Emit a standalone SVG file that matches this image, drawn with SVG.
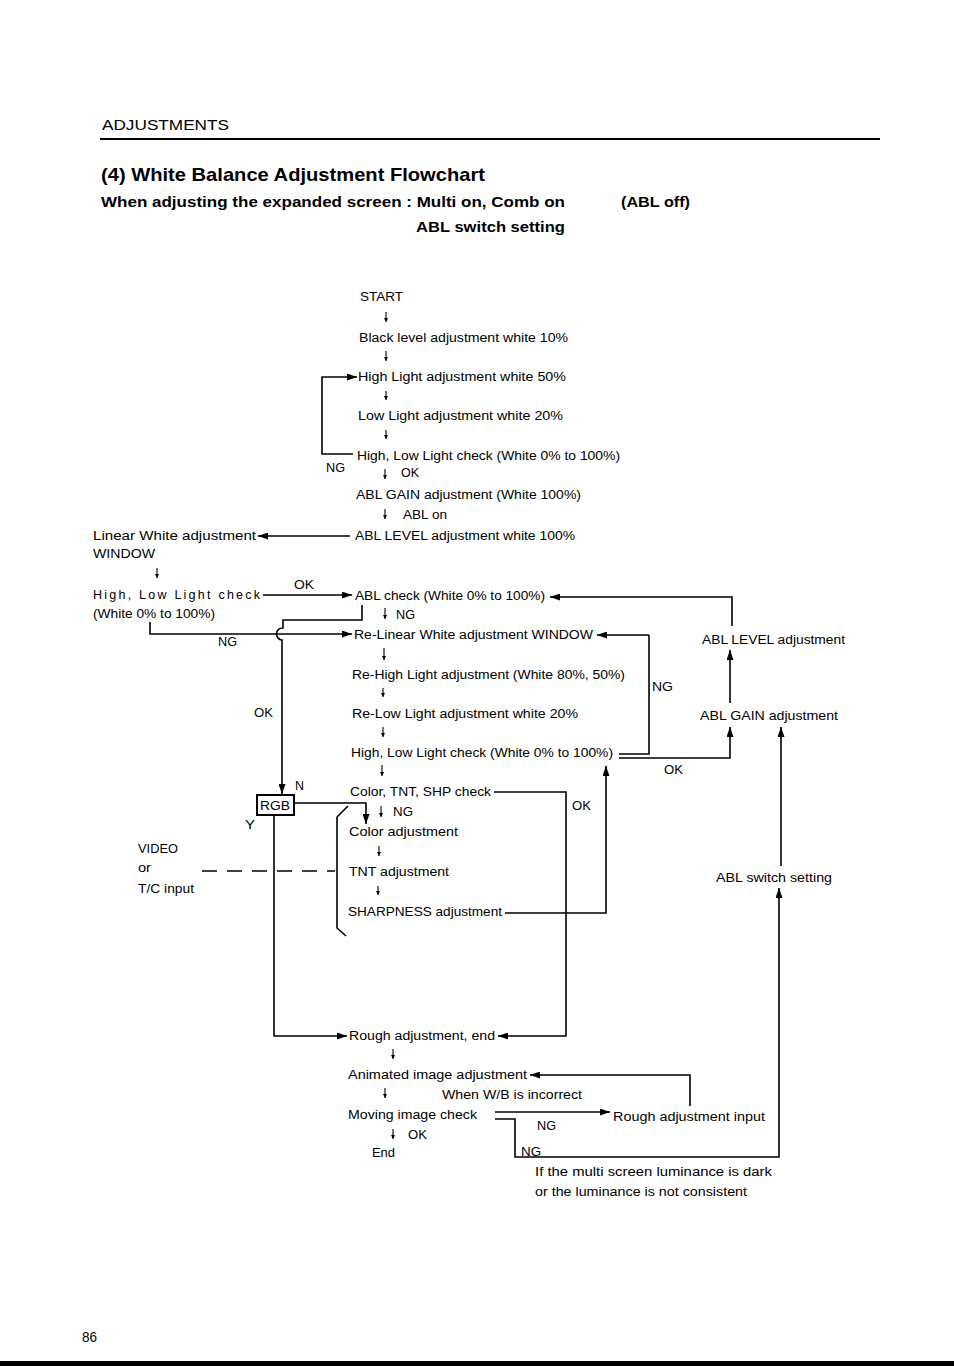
<svg xmlns="http://www.w3.org/2000/svg" width="954" height="1366" viewBox="0 0 954 1366">
<style>
text{font-family:"Liberation Sans",Arial,Helvetica,sans-serif;fill:#000}
.t{font-size:12.5px}
.s{font-size:12px}
.hd{font-size:15px}
.ti{font-size:19px;font-weight:bold}
.sb{font-size:15px;font-weight:bold}
.c{fill:none;stroke:#000;stroke-width:1.6}
.a{fill:none;stroke:#000;stroke-width:1.6;marker-end:url(#ah)}
.d{fill:none;stroke:#000;stroke-width:1.1;marker-end:url(#sm)}
.dash{fill:none;stroke:#000;stroke-width:1.5;stroke-dasharray:15 10}
</style>
<defs>
<marker id="ah" markerUnits="userSpaceOnUse" markerWidth="10" markerHeight="7" refX="10" refY="3.5" orient="auto">
<path d="M0,0 L10,3.5 L0,7 z" fill="#000"/>
</marker>
<marker id="sm" markerUnits="userSpaceOnUse" markerWidth="4" markerHeight="4" refX="4" refY="2" orient="auto">
<path d="M0,0 L4,2 L0,4 z" fill="#000"/>
</marker>
</defs>
<rect width="954" height="1366" fill="#fff"/>

<g id="header">
<text class="hd" x="102" y="130" textLength="127" lengthAdjust="spacingAndGlyphs">ADJUSTMENTS</text>
<line x1="100" y1="139" x2="880" y2="139" stroke="#000" stroke-width="2"/>
<text class="ti" x="101" y="181" textLength="384" lengthAdjust="spacingAndGlyphs">(4) White Balance Adjustment Flowchart</text>
<text class="sb" x="101" y="207" textLength="464" lengthAdjust="spacingAndGlyphs">When adjusting the expanded screen  :  Multi on, Comb on</text>
<text class="sb" x="621" y="207" textLength="69" lengthAdjust="spacingAndGlyphs">(ABL off)</text>
<text class="sb" x="416" y="232" textLength="149" lengthAdjust="spacingAndGlyphs">ABL switch setting</text>
</g>

<g id="n-start"><text class="t" x="360" y="301" textLength="43" lengthAdjust="spacingAndGlyphs">START</text></g>
<g id="n-black"><text class="t" x="359" y="342" textLength="209" lengthAdjust="spacingAndGlyphs">Black level adjustment white 10%</text></g>
<g id="n-high"><text class="t" x="358" y="381" textLength="208" lengthAdjust="spacingAndGlyphs">High Light adjustment white 50%</text></g>
<g id="n-low"><text class="t" x="358" y="420" textLength="205" lengthAdjust="spacingAndGlyphs">Low Light adjustment white 20%</text></g>
<g id="n-check1"><text class="t" x="357" y="460" textLength="263" lengthAdjust="spacingAndGlyphs">High, Low Light check (White 0% to 100%)</text></g>
<g id="n-ablgain1"><text class="t" x="356" y="499" textLength="225" lengthAdjust="spacingAndGlyphs">ABL GAIN adjustment (White 100%)</text></g>
<g id="n-abllevel1"><text class="t" x="355" y="540" textLength="220" lengthAdjust="spacingAndGlyphs">ABL LEVEL adjustment white 100%</text></g>
<g id="n-linear">
<text class="t" x="93" y="540" textLength="163" lengthAdjust="spacingAndGlyphs">Linear White adjustment</text>
<text class="t" x="93" y="558" textLength="62" lengthAdjust="spacingAndGlyphs">WINDOW</text>
</g>
<g id="n-check2">
<text class="t" x="93" y="599" textLength="167" lengthAdjust="spacing">High, Low Light check</text>
<text class="t" x="93" y="618" textLength="122" lengthAdjust="spacingAndGlyphs">(White 0% to 100%)</text>
</g>
<g id="n-ablcheck"><text class="s" x="355" y="600" textLength="190" lengthAdjust="spacingAndGlyphs">ABL check (White 0% to 100%)</text></g>
<g id="n-relinear"><text class="t" x="354" y="639" textLength="239" lengthAdjust="spacingAndGlyphs">Re-Linear White adjustment WINDOW</text></g>
<g id="n-rehigh"><text class="t" x="352" y="679" textLength="273" lengthAdjust="spacingAndGlyphs">Re-High Light adjustment (White 80%, 50%)</text></g>
<g id="n-relow"><text class="t" x="352" y="718" textLength="226" lengthAdjust="spacingAndGlyphs">Re-Low Light adjustment white 20%</text></g>
<g id="n-check3"><text class="t" x="351" y="757" textLength="262" lengthAdjust="spacingAndGlyphs">High, Low Light check (White 0% to 100%)</text></g>
<g id="n-abllevel2"><text class="t" x="702" y="644" textLength="143" lengthAdjust="spacingAndGlyphs">ABL LEVEL adjustment</text></g>
<g id="n-ablgain2"><text class="t" x="700" y="720" textLength="138" lengthAdjust="spacingAndGlyphs">ABL GAIN adjustment</text></g>
<g id="n-ablswitch"><text class="t" x="716" y="882" textLength="116" lengthAdjust="spacingAndGlyphs">ABL switch setting</text></g>
<g id="n-rgb">
<rect x="257" y="795" width="37" height="20" fill="#fff" stroke="#000" stroke-width="2"/>
<text class="t" x="260" y="810" textLength="30" lengthAdjust="spacingAndGlyphs">RGB</text>
</g>
<g id="n-colorcheck"><text class="t" x="350" y="796" textLength="141" lengthAdjust="spacingAndGlyphs">Color, TNT, SHP check</text></g>
<g id="n-color"><text class="t" x="349" y="836" textLength="109" lengthAdjust="spacingAndGlyphs">Color adjustment</text></g>
<g id="n-tnt"><text class="t" x="349" y="876" textLength="100" lengthAdjust="spacingAndGlyphs">TNT adjustment</text></g>
<g id="n-sharp"><text class="t" x="348" y="916" textLength="154" lengthAdjust="spacingAndGlyphs">SHARPNESS adjustment</text></g>
<g id="n-video">
<text class="t" x="138" y="853" textLength="40" lengthAdjust="spacingAndGlyphs">VIDEO</text>
<text class="t" x="138" y="872" textLength="13" lengthAdjust="spacingAndGlyphs">or</text>
<text class="t" x="138" y="893" textLength="56" lengthAdjust="spacingAndGlyphs">T/C input</text>
</g>
<g id="n-rough"><text class="t" x="349" y="1040" textLength="146" lengthAdjust="spacingAndGlyphs">Rough adjustment, end</text></g>
<g id="n-animated"><text class="t" x="348" y="1079" textLength="179" lengthAdjust="spacingAndGlyphs">Animated image adjustment</text></g>
<g id="n-moving"><text class="t" x="348" y="1119" textLength="129" lengthAdjust="spacingAndGlyphs">Moving image check</text></g>
<g id="n-end"><text class="t" x="372" y="1157" textLength="23" lengthAdjust="spacingAndGlyphs">End</text></g>
<g id="n-roughinput"><text class="t" x="613" y="1121" textLength="152" lengthAdjust="spacingAndGlyphs">Rough adjustment input</text></g>
<g id="n-note">
<text class="s" x="535" y="1176" textLength="237" lengthAdjust="spacingAndGlyphs">If the multi screen luminance is dark</text>
<text class="s" x="535" y="1196" textLength="212" lengthAdjust="spacingAndGlyphs">or the luminance is not consistent</text>
</g>

<g id="connectors">
<!-- small down arrows -->
<path class="d" d="M386,312 V322"/>
<path class="d" d="M386,351 V361"/>
<path class="d" d="M386,391 V400"/>
<path class="d" d="M386,430 V439"/>
<path class="d" d="M385,469 V479"/>
<path class="d" d="M385,509 V519"/>
<path class="d" d="M157,568 V578"/>
<path class="d" d="M385,608 V619"/>
<path class="d" d="M384,648 V660"/>
<path class="d" d="M383,688 V697"/>
<path class="d" d="M383,727 V737"/>
<path class="d" d="M382,765 V776"/>
<path class="d" d="M381,806 V817"/>
<path class="d" d="M379,846 V856"/>
<path class="d" d="M378,886 V895"/>
<path class="d" d="M393,1049 V1059"/>
<path class="d" d="M385,1088 V1098"/>
<path class="d" d="M393,1129 V1139"/>
<!-- main connectors -->
<path class="a" d="M353,454 H322 V377 H357"/>
<path class="a" d="M350,536 H258"/>
<path class="a" d="M263,595 H352"/>
<path class="a" d="M150,622 V634 H352"/>
<path class="a" d="M362,605 V620 H283 V628 A6,6 0 0 0 282,640 V794"/>
<path class="c" d="M619,754 H649 V635"/>
<path class="a" d="M649,635 H597"/>
<path class="a" d="M619,758 H730 V727"/>
<path class="a" d="M730,703 V650"/>
<path class="a" d="M732,626 V597 H550"/>
<path class="a" d="M781,866 V727"/>
<path class="a" d="M494,792 H566 V1036 H498"/>
<path class="a" d="M505,913 H606 V766"/>
<path class="a" d="M295,803 H366 V824"/>
<path class="a" d="M274,815 V1036 H347"/>
<path class="dash" d="M202,871 H335"/>
<path class="c" d="M348,806 L337,817 V928 L346,936"/>
<path class="a" d="M495,1112 H610"/>
<path class="a" d="M690,1106 V1075 H530"/>
<path class="a" d="M495,1119 H515 V1157 H779 V888"/>
</g>

<g id="labels">
<text class="t" x="326" y="472" textLength="19" lengthAdjust="spacingAndGlyphs">NG</text>
<text class="t" x="401" y="477" textLength="18" lengthAdjust="spacingAndGlyphs">OK</text>
<text class="t" x="403" y="519" textLength="44" lengthAdjust="spacingAndGlyphs">ABL on</text>
<text class="t" x="294" y="589" textLength="20" lengthAdjust="spacingAndGlyphs">OK</text>
<text class="t" x="396" y="619" textLength="19" lengthAdjust="spacingAndGlyphs">NG</text>
<text class="t" x="218" y="646" textLength="19" lengthAdjust="spacingAndGlyphs">NG</text>
<text class="t" x="652" y="691" textLength="21" lengthAdjust="spacingAndGlyphs">NG</text>
<text class="t" x="254" y="717" textLength="19" lengthAdjust="spacingAndGlyphs">OK</text>
<text class="t" x="664" y="774" textLength="19" lengthAdjust="spacingAndGlyphs">OK</text>
<text class="t" x="295" y="790" textLength="9" lengthAdjust="spacingAndGlyphs">N</text>
<text class="t" x="245" y="829" textLength="10" lengthAdjust="spacingAndGlyphs">Y</text>
<text class="t" x="393" y="816" textLength="20" lengthAdjust="spacingAndGlyphs">NG</text>
<text class="t" x="572" y="810" textLength="19" lengthAdjust="spacingAndGlyphs">OK</text>
<text class="t" x="442" y="1099" textLength="140" lengthAdjust="spacingAndGlyphs">When W/B is incorrect</text>
<text class="t" x="537" y="1130" textLength="19" lengthAdjust="spacingAndGlyphs">NG</text>
<text class="t" x="408" y="1139" textLength="19" lengthAdjust="spacingAndGlyphs">OK</text>
<text class="t" x="521" y="1156" textLength="20" lengthAdjust="spacingAndGlyphs">NG</text>
</g>

<g id="footer">
<text class="hd" x="82" y="1342" textLength="15" lengthAdjust="spacingAndGlyphs">86</text>
<rect x="0" y="1361" width="954" height="5" fill="#000"/>
</g>
</svg>
